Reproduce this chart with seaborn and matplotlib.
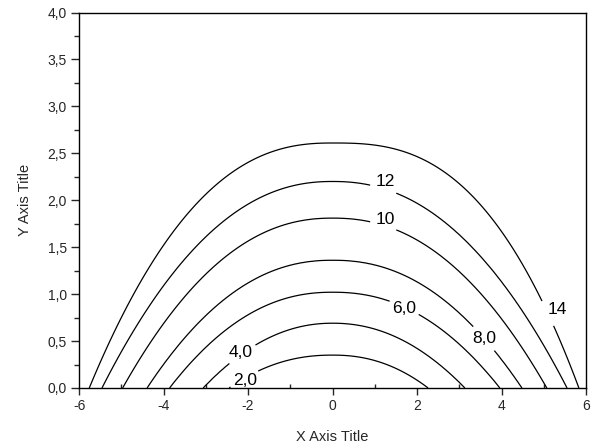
import numpy as np
import matplotlib
matplotlib.use("Agg")
import matplotlib.pyplot as plt
from matplotlib.ticker import FixedLocator, FixedFormatter, MultipleLocator
import seaborn as sns

# contour levels and where each curve sits
levels = [2, 4, 6, 8, 10, 12, 14]
apex_y = [0.35, 0.69, 1.02, 1.36, 1.81, 2.20, 2.61]          # height at x = 0
left_x = [-2.45, -3.06, -3.86, -4.39, -4.97, -5.46, -5.76]   # meets y = 0 on the left
right_x = [2.26, 3.13, 3.96, 4.48, 5.07, 5.55, 5.83]         # meets y = 0 on the right
left_shape = [2.2, 2.1, 2.2, 2.2, 2.2, 2.2, 2.4]             # flatness of the arch
right_shape = [2.2, 2.1, 2.2, 2.2, 2.2, 2.2, 2.7]

x_ticks = [-6, -4, -2, 0, 2, 4, 6]
x_tick_labels = ["-6", "-4", "-2", "0", "2", "4", "6"]
y_ticks = [0.0, 0.5, 1.0, 1.5, 2.0, 2.5, 3.0, 3.5, 4.0]
y_tick_labels = ["0,0", "0,5", "1,0", "1,5", "2,0", "2,5", "3,0", "3,5", "4,0"]

# where the level labels sit
label_pos = {2: (-2.07, 0.08), 4: (-2.17, 0.38), 6: (1.69, 0.85), 8: (3.59, 0.53),
             10: (1.25, 1.80), 12: (1.25, 2.20), 14: (5.31, 0.84)}

# gridded field whose level curves pass through the read arches
xs = np.linspace(-6, 6, 481)
ys = np.linspace(0, 4, 321)
lv = np.array(levels, float)
ap = np.array(apex_y)[:, None]
w = np.where(xs < 0, np.abs(np.array(left_x))[:, None], np.array(right_x)[:, None])
p = np.where(xs < 0, np.array(left_shape)[:, None], np.array(right_shape)[:, None])
curve_y = ap * (1 - np.abs(xs / w) ** p)

Z = np.empty((len(ys), len(xs)))
for j in range(len(xs)):
    cy = curve_y[:, j]
    z = np.interp(ys, cy, lv)
    lo = ys < cy[0]
    z[lo] = lv[0] + (ys[lo] - cy[0]) * (lv[1] - lv[0]) / (cy[1] - cy[0])
    hi = ys > cy[-1]
    z[hi] = lv[-1] + (ys[hi] - cy[-1]) * (lv[-1] - lv[-2]) / (cy[-1] - cy[-2])
    Z[:, j] = z

sns.set_style("ticks")
plt.rcParams["font.family"] = ["Liberation Sans", "DejaVu Sans"]

fig = plt.figure(figsize=(5.95, 4.48), dpi=100)
ax = fig.add_axes([0.133, 0.134, 0.852, 0.838])
ax.set_xlim(-6, 6)
ax.set_ylim(0, 4)

def fmt(v):
    return f"{v:.1f}".replace(".", ",") if v < 10 else f"{v:.0f}"

# one contour set per level so each label lands on its own curve
for lev in levels:
    cs = ax.contour(xs, ys, Z, levels=[lev], colors="black", linewidths=0.9)
    pos = label_pos[lev]
    txts = ax.clabel(cs, manual=[pos], fmt=fmt, fontsize=12.5,
                     inline=True, inline_spacing=4)
    for t in txts:
        t.set_rotation(0)
        t.set_position(pos)

ax.xaxis.set_major_locator(FixedLocator(x_ticks))
ax.xaxis.set_major_formatter(FixedFormatter(x_tick_labels))
ax.yaxis.set_major_locator(FixedLocator(y_ticks))
ax.yaxis.set_major_formatter(FixedFormatter(y_tick_labels))
ax.xaxis.set_minor_locator(MultipleLocator(1))
ax.yaxis.set_minor_locator(MultipleLocator(0.25))

ax.tick_params(axis="x", which="major", direction="out", length=5, width=1, labelsize=10, pad=3)
ax.tick_params(axis="x", which="minor", direction="in", length=3, width=1)
ax.tick_params(axis="y", which="major", direction="out", length=6, width=1, labelsize=10, pad=3)
ax.tick_params(axis="y", which="minor", direction="out", length=3.5, width=1)
for s in ax.spines.values():
    s.set_color("black")
    s.set_linewidth(1)

ax.set_xlabel("X Axis Title", fontsize=10.5, labelpad=12)
ax.set_ylabel("Y Axis Title", fontsize=10.5, labelpad=11)

fig.savefig("out.png", dpi=100)
